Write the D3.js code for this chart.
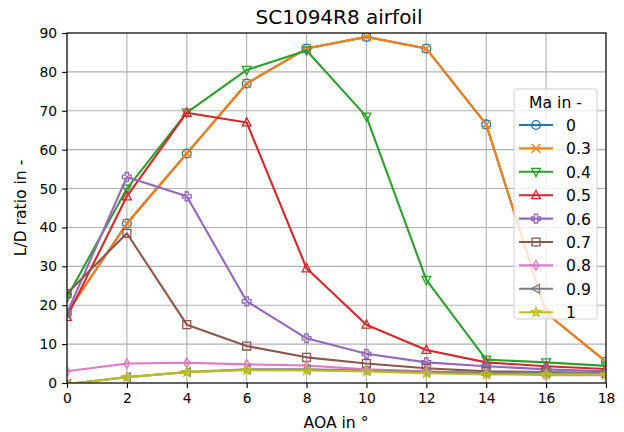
<!DOCTYPE html>
<html>
<head>
<meta charset="utf-8">
<script src="https://cdn.jsdelivr.net/npm/d3@7"></script>
<style>
  body { margin: 0; background: #fff; }
  text { font-family: "DejaVu Sans", sans-serif; fill: #000; }
</style>
</head>
<body>
<script>
// data
const aoa = [0, 2, 4, 6, 8, 10, 12, 14, 16, 18];
const machs = ['0', '0.3', '0.4', '0.5', '0.6', '0.7', '0.8', '0.9', '1'];
const ld_0   = [18, 41, 59, 77, 86, 89, 86, 66.5, 18, 5.5];
const ld_03  = [18, 41, 59, 77, 86, 89, 86, 66.5, 18, 5.5];
const ld_04  = [22, 50, 69.5, 80.5, 85.5, 68.5, 26.5, 6, 5.3, 4.4];
const ld_05  = [17, 48, 69.5, 67, 29.5, 15, 8.5, 5.3, 4.3, 3.6];
const ld_06  = [18, 53, 48, 21, 11.5, 7.5, 5.3, 4.3, 3.5, 3];
const ld_07  = [23, 38.5, 15, 9.5, 6.6, 5, 3.8, 3, 2.8, 2.5];
const ld_08  = [3, 5, 5.2, 4.8, 4.5, 3.5, 3, 2.5, 2, 2];
const ld_09  = [-0.3, 1.5, 2.8, 3.5, 3.5, 3.2, 2.8, 2.6, 2.6, 2.5];
const ld_1   = [-0.3, 1.5, 2.8, 3.3, 3.2, 3, 2.5, 2.2, 2.2, 2.2];
const series = [ld_0, ld_03, ld_04, ld_05, ld_06, ld_07, ld_08, ld_09, ld_1];
const xTicks = [0, 2, 4, 6, 8, 10, 12, 14, 16, 18];
const yTicks = [0, 10, 20, 30, 40, 50, 60, 70, 80, 90];

const colors = ['#1f77b4', '#ff7f0e', '#2ca02c', '#d62728', '#9467bd',
                '#8c564b', '#e377c2', '#7f7f7f', '#bcbd22'];
const markers = ['circle', 'x', 'tri_down', 'tri_up', 'plus', 'square', 'diamond', 'tri_left', 'star'];

const W = 624, H = 432;
const m = {left: 67, right: 18, top: 33, bottom: 49};

const svg = d3.select('body').append('svg')
  .attr('width', W).attr('height', H);

const x = d3.scaleLinear().domain([0, 18]).range([m.left, W - m.right]);
const y = d3.scaleLinear().domain([0, 90]).range([H - m.bottom, m.top]);

svg.append('defs').append('clipPath').attr('id', 'clip')
  .append('rect')
  .attr('x', m.left).attr('y', m.top)
  .attr('width', W - m.left - m.right).attr('height', H - m.top - m.bottom);

// grid
const grid = svg.append('g').attr('stroke', '#b0b0b0').attr('stroke-width', 1.1);
grid.selectAll('.gx').data(xTicks).join('line')
  .attr('x1', d => x(d)).attr('x2', d => x(d))
  .attr('y1', m.top).attr('y2', H - m.bottom);
grid.selectAll('.gy').data(yTicks).join('line')
  .attr('y1', d => y(d)).attr('y2', d => y(d))
  .attr('x1', m.left).attr('x2', W - m.right);

function markerPath(type, r) {
  const p = d3.path();
  if (type === 'circle') {
    p.moveTo(r, 0); p.arc(0, 0, r, 0, 2 * Math.PI);
  } else if (type === 'x') {
    p.moveTo(-r, -r); p.lineTo(r, r); p.moveTo(-r, r); p.lineTo(r, -r);
  } else if (type === 'tri_down') {
    p.moveTo(-r, -r * 0.8); p.lineTo(r, -r * 0.8); p.lineTo(0, r * 1.1); p.closePath();
  } else if (type === 'tri_up') {
    p.moveTo(-r, r * 0.8); p.lineTo(r, r * 0.8); p.lineTo(0, -r * 1.1); p.closePath();
  } else if (type === 'tri_left') {
    p.moveTo(r * 0.8, -r); p.lineTo(r * 0.8, r); p.lineTo(-r * 1.1, 0); p.closePath();
  } else if (type === 'square') {
    const s = r * 0.9;
    p.rect(-s, -s, 2 * s, 2 * s);
  } else if (type === 'diamond') {
    p.moveTo(0, -r * 1.1); p.lineTo(r * 0.65, 0); p.lineTo(0, r * 1.1); p.lineTo(-r * 0.65, 0); p.closePath();
  } else if (type === 'plus') {
    const a = r, b = r * 0.38;
    p.moveTo(-b, -a); p.lineTo(b, -a); p.lineTo(b, -b); p.lineTo(a, -b); p.lineTo(a, b);
    p.lineTo(b, b); p.lineTo(b, a); p.lineTo(-b, a); p.lineTo(-b, b); p.lineTo(-a, b);
    p.lineTo(-a, -b); p.lineTo(-b, -b); p.closePath();
  } else if (type === 'star') {
    for (let i = 0; i < 10; i++) {
      const ang = -Math.PI / 2 + i * Math.PI / 5;
      const rr = i % 2 === 0 ? r * 1.1 : r * 0.45;
      if (i === 0) p.moveTo(rr * Math.cos(ang), rr * Math.sin(ang));
      else p.lineTo(rr * Math.cos(ang), rr * Math.sin(ang));
    }
    p.closePath();
  }
  return p.toString();
}

const line = d3.line().x((d, i) => x(aoa[i])).y(d => y(d));

const plot = svg.append('g').attr('clip-path', 'url(#clip)');
series.forEach((s, k) => {
  const g = plot.append('g');
  g.append('path').datum(s)
    .attr('d', line)
    .attr('fill', 'none')
    .attr('stroke', colors[k])
    .attr('stroke-width', 2.1)
    .attr('stroke-linejoin', 'round');
  g.selectAll('path.mk').data(s).join('path')
    .attr('class', 'mk')
    .attr('transform', (d, i) => `translate(${x(aoa[i])},${y(d)})`)
    .attr('d', markerPath(markers[k], 4.4))
    .attr('fill', 'none')
    .attr('stroke', colors[k])
    .attr('stroke-width', 1.3);
});

// axes
const xAxis = svg.append('g')
  .attr('transform', `translate(0,${H - m.bottom})`)
  .call(d3.axisBottom(x).tickValues(xTicks).tickSizeOuter(0).tickSize(4.9).tickPadding(4.9));
const yAxis = svg.append('g')
  .attr('transform', `translate(${m.left},0)`)
  .call(d3.axisLeft(y).tickValues(yTicks).tickSizeOuter(0).tickSize(4.9).tickPadding(4.9));
[xAxis, yAxis].forEach(a => {
  a.selectAll('text').style('font-size', '13.9px').style('font-family', '"DejaVu Sans", sans-serif');
  a.selectAll('line').attr('stroke-width', 1.1);
  a.select('.domain').remove();
});

// frame
svg.append('rect')
  .attr('x', m.left).attr('y', m.top)
  .attr('width', W - m.left - m.right).attr('height', H - m.top - m.bottom)
  .attr('fill', 'none').attr('stroke', '#000').attr('stroke-width', 1.1);

// labels
svg.append('text').attr('x', 339).attr('y', 24)
  .attr('text-anchor', 'middle').style('font-size', '20px').text('SC1094R8 airfoil');
svg.append('text').attr('x', 336).attr('y', 428)
  .attr('text-anchor', 'middle').style('font-size', '15.6px').text('AOA in °');
svg.append('text')
  .attr('transform', `translate(26,${(m.top + H - m.bottom) / 2}) rotate(-90)`)
  .attr('text-anchor', 'middle').style('font-size', '15.6px').text('L/D ratio in -');

// legend
const lg = svg.append('g');
lg.append('rect')
  .attr('x', 514).attr('y', 89).attr('width', 83).attr('height', 230).attr('rx', 3)
  .attr('fill', 'rgba(255,255,255,0.8)').attr('stroke', '#d0d0d0').attr('stroke-width', 1);
lg.append('text').attr('x', 555.5).attr('y', 107.5)
  .attr('text-anchor', 'middle').style('font-size', '15.6px').text('Ma in -');
machs.forEach((mName, k) => {
  const yy = 125 + k * 23.4;
  lg.append('line').attr('x1', 519).attr('x2', 553).attr('y1', yy).attr('y2', yy)
    .attr('stroke', colors[k]).attr('stroke-width', 2.1);
  lg.append('path').attr('transform', `translate(536,${yy})`)
    .attr('d', markerPath(markers[k], 4.4))
    .attr('fill', 'none').attr('stroke', colors[k]).attr('stroke-width', 1.3);
  lg.append('text').attr('x', 566).attr('y', yy + 6)
    .style('font-size', '15.6px').text(mName);
});
</script>
</body>
</html>
